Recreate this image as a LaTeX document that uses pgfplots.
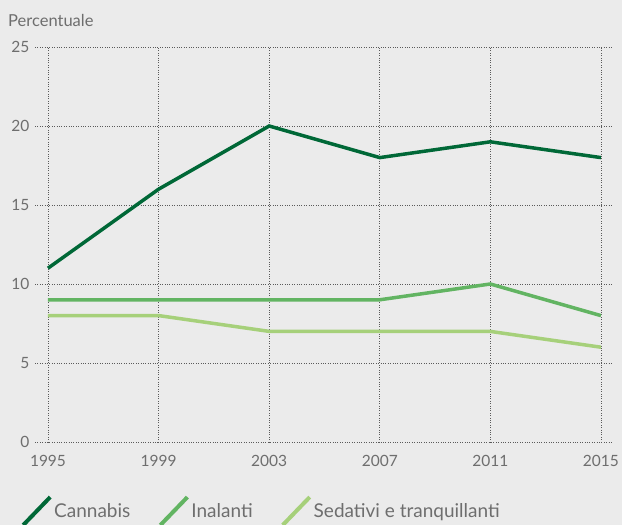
\documentclass[border=0pt]{standalone}
\usepackage{pgfplots}
\pgfplotsset{compat=1.18}
\usepackage{fontspec}
\setmainfont{Lato}
\definecolor{bg}{RGB}{235,235,235}
\definecolor{txt}{RGB}{110,110,110}
\definecolor{gridc}{RGB}{90,90,90}
\definecolor{cannabis}{RGB}{0,104,55}
\definecolor{inalanti}{RGB}{98,180,98}
\definecolor{sedativi}{RGB}{166,208,122}

\begin{document}
\begin{tikzpicture}[x=1pt,y=1pt]
\useasboundingbox (0,0) rectangle (622,525);
\fill[bg] (0,0) rectangle (622,525);
\node[anchor=west, text=txt, font=\fontsize{16.5}{19}\selectfont, inner sep=0pt] at (8,505) {Percentuale};
\begin{axis}[
    at={(35pt,83pt)}, anchor=south west,
    scale only axis, width=577pt, height=395pt,
    xmin=1994.53, xmax=2015.4,
    ymin=0, ymax=25,
    xtick={1995,1999,...,2015},
    ytick={0,5,...,25},
    axis line style={draw=none},
    major tick length=0pt,
    grid=major,
    grid style={dotted, gridc, line width=0.7pt},
    tick label style={text=txt, font=\fontsize{15.5}{18}\selectfont},
    /pgf/number format/assume math mode=true,
    /pgf/number format/1000 sep={},
    xticklabel style={yshift=-10pt},
    yticklabel style={xshift=-2pt},
    legend style={at={(-0.0295,-0.175)}, anchor=west, draw=none, fill=none,
        legend columns=3, font=\fontsize{19}{22}\selectfont, text=txt,
        /tikz/every even column/.append style={column sep=26pt}},
    legend image code/.code={\draw[#1, line width=4pt] (-4pt,-14pt) -- (23pt,14pt);},
    every axis plot/.append style={line width=3.5pt},
]
\addplot[cannabis] coordinates {(1995,11) (1999,16) (2003,20) (2007,18) (2011,19) (2015,18)};
\addplot[inalanti] coordinates {(1995,9) (1999,9) (2003,9) (2007,9) (2011,10) (2015,8)};
\addplot[sedativi] coordinates {(1995,8) (1999,8) (2003,7) (2007,7) (2011,7) (2015,6)};
\legend{Cannabis, Inalanti, Sedativi e tranquillanti}
\end{axis}
\end{tikzpicture}
\end{document}
